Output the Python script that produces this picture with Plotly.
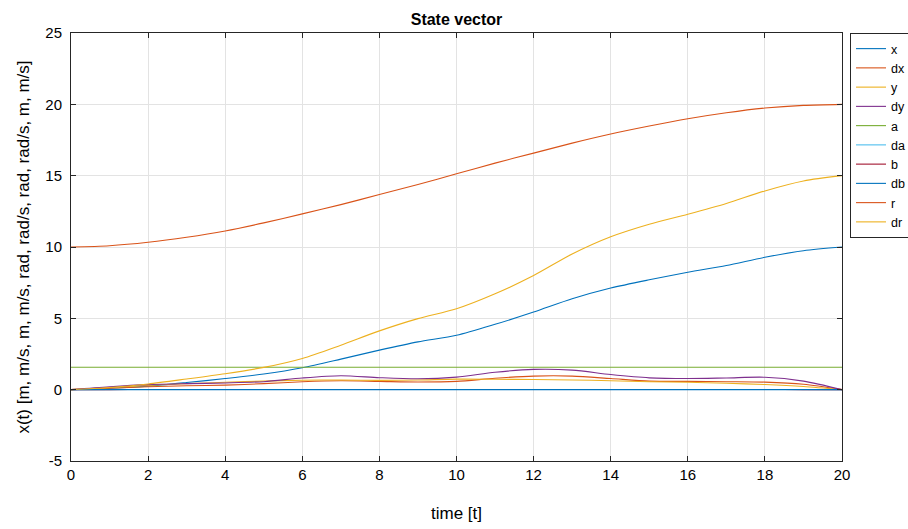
import plotly.graph_objects as go

t = list(range(0, 21))

x_vals  = [0, 0.1, 0.25, 0.5, 0.78, 1.1, 1.54, 2.14, 2.77, 3.35, 3.81, 4.58, 5.44, 6.37, 7.12, 7.7, 8.23, 8.7, 9.28, 9.74, 10.0]
dx_vals = [0, 0.1, 0.2, 0.27, 0.32, 0.42, 0.55, 0.62, 0.58, 0.54, 0.58, 0.8, 0.95, 0.95, 0.78, 0.6, 0.58, 0.56, 0.53, 0.38, 0]
y_vals  = [0, 0.15, 0.3, 0.42, 0.52, 0.6, 0.66, 0.68, 0.65, 0.68, 0.74, 0.73, 0.71, 0.68, 0.63, 0.55, 0.52, 0.45, 0.36, 0.22, 0]
dy_vals = [0, 0.2, 0.35, 0.42, 0.47, 0.56, 0.82, 0.98, 0.84, 0.76, 0.88, 1.22, 1.42, 1.37, 1.06, 0.83, 0.78, 0.82, 0.87, 0.6, 0]
a_vals  = [1.5708] * 21
da_vals = [0, 0.01, 0.01, 0.01, 0.01, 0.01, 0.01, 0.01, 0.01, 0.01, 0.01, 0.01, 0.01, 0.01, 0.01, 0.01, 0.01, 0.01, 0.01, 0.01, 0]
b_vals  = [0, 0.005, 0.01, 0.01, 0.01, 0.01, 0.01, 0.01, 0.01, 0.01, 0.01, 0.01, 0.01, 0.01, 0.01, 0.01, 0.01, 0.01, 0.01, 0.005, 0]
db_vals = [0] * 21
r_vals  = [10, 10.09, 10.33, 10.68, 11.12, 11.69, 12.32, 12.97, 13.68, 14.38, 15.13, 15.88, 16.58, 17.28, 17.92, 18.48, 18.99, 19.41, 19.74, 19.93, 20.0]
dr_vals = [0, 0.15, 0.4, 0.75, 1.12, 1.56, 2.19, 3.12, 4.12, 4.98, 5.67, 6.72, 8.0, 9.51, 10.72, 11.6, 12.3, 13.05, 13.93, 14.63, 15.0]

names  = ["x", "dx", "y", "dy", "a", "da", "b", "db", "r", "dr"]
series = [x_vals, dx_vals, y_vals, dy_vals, a_vals, da_vals, b_vals, db_vals, r_vals, dr_vals]
colors = ["#0072BD", "#D95319", "#EDB120", "#7E2F8E", "#77AC30",
          "#4DBEEE", "#A2142F", "#0072BD", "#D95319", "#EDB120"]

x_ticks = list(range(0, 21, 2))
y_ticks = list(range(-5, 26, 5))

fig = go.Figure()
for n, s, c in zip(names, series, colors):
    fig.add_trace(go.Scatter(x=t, y=s, name=n, mode="lines",
                             line=dict(color=c, width=1.1, shape="spline", smoothing=0.8)))

font_family = "Liberation Sans, Arial, sans-serif"
fig.update_layout(
    width=908, height=529,
    margin=dict(l=71, r=66, t=33, b=68, autoexpand=False),
    paper_bgcolor="white", plot_bgcolor="white",
    font=dict(family=font_family, color="black", size=15),
    title=dict(text="<b>State vector</b>", x=0.5, xref="paper", xanchor="center",
               y=1, yref="paper", yanchor="bottom", pad=dict(b=8),
               font=dict(size=16, family=font_family, color="black")),
    showlegend=True,
    legend=dict(x=1.0104, xanchor="left", y=1.0, yanchor="top",
                bordercolor="#262626", borderwidth=1, bgcolor="white",
                font=dict(size=12.5, family=font_family, color="black"),
                itemwidth=30, tracegroupgap=0),
)
fig.update_xaxes(range=[0, 20], tickvals=x_ticks, ticktext=[str(v) for v in x_ticks],
                 showgrid=True, gridcolor="#e3e3e3", gridwidth=1, automargin=False,
                 showline=True, linecolor="#262626", linewidth=1, mirror="allticks",
                 ticks="inside", ticklen=5, tickcolor="#262626", zeroline=False,
                 title=dict(text="time [t]", font=dict(size=17), standoff=25),
                 tickfont=dict(size=15))
fig.update_yaxes(range=[-5, 25], tickvals=y_ticks, ticktext=[str(v) for v in y_ticks],
                 showgrid=True, gridcolor="#e3e3e3", gridwidth=1, automargin=False,
                 showline=True, linecolor="#262626", linewidth=1, mirror="allticks",
                 ticks="inside", ticklen=5, tickcolor="#262626", zeroline=False,
                 ticklabelstandoff=5,
                 title=dict(text="x(t) [m, m/s, m, m/s, rad, rad/s, rad, rad/s, m, m/s]",
                            font=dict(size=17), standoff=11),
                 tickfont=dict(size=15))

fig.write_html("out.html", config={"displayModeBar": False},
               post_script="document.body.style.margin='0';")
